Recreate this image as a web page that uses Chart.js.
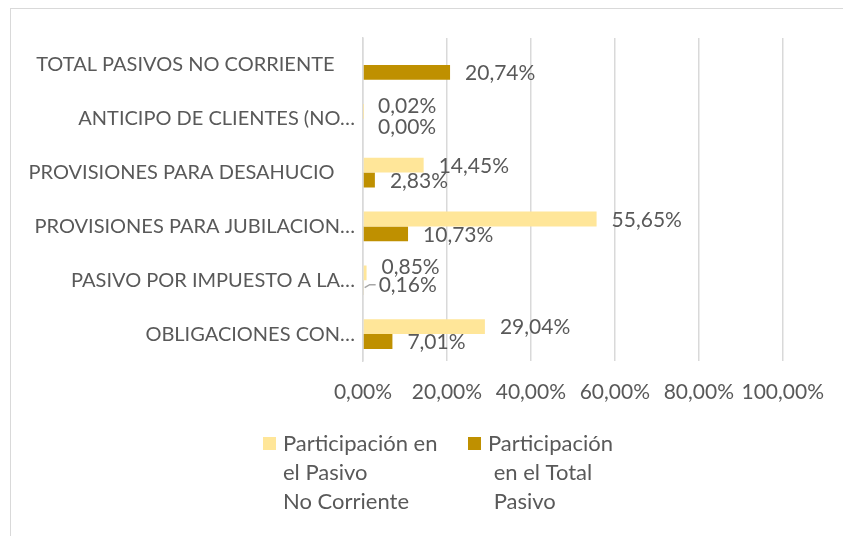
<!DOCTYPE html>
<html>
<head>
<meta charset="utf-8">
<script src="https://cdn.jsdelivr.net/npm/chart.js@4/dist/chart.umd.min.js"></script>
<style>
  html, body { margin: 0; padding: 0; background: #fff; }
  #wrap { position: relative; width: 843px; height: 536px; overflow: hidden; }
  #frame { position: absolute; left: 10px; top: 8px; width: 850px; height: 550px; border: 1px solid #d9d9d9; box-sizing: border-box; }
  canvas { position: absolute; left: 0; top: 0; }
</style>
</head>
<body>
<div id="wrap">
  <div id="frame"></div>
  <canvas id="c" width="843" height="536"></canvas>
</div>
<script>
const categories = [
  "TOTAL PASIVOS NO CORRIENTE    ",
  "ANTICIPO DE CLIENTES (NO…",
  "PROVISIONES PARA DESAHUCIO    ",
  "PROVISIONES PARA JUBILACION…",
  "PASIVO POR IMPUESTO A LA…",
  "OBLIGACIONES CON…"
];
const seriesNames = [
  ["Participación en", "el Pasivo", "No Corriente"],
  ["Participación", " en el Total", " Pasivo"]
];
const participacionPasivoNoCorriente = [null, 0.02, 14.45, 55.65, 0.85, 29.04];
const participacionTotalPasivo = [20.74, 0.00, 2.83, 10.73, 0.16, 7.01];
const xTicks = [0, 20, 40, 60, 80, 100];

const FONT = "Lato, 'Open Sans', sans-serif";
const TEXT = "#595959";
const colors = ["#FFE699", "#BF9000"];

function fmt(v) { return v.toFixed(2).replace(".", ",") + "%"; }

const labelPlugin = {
  id: "barLabels",
  afterDatasetsDraw(chart) {
    const ctx = chart.ctx;
    ctx.save();
    ctx.font = "21px " + FONT;
    ctx.fillStyle = TEXT;
    ctx.textAlign = "left";
    ctx.textBaseline = "middle";
    const n = chart.data.labels.length;
    for (let i = 0; i < n; i++) {
      const m0 = chart.getDatasetMeta(0).data[i];
      const m1 = chart.getDatasetMeta(1).data[i];
      const v0 = chart.data.datasets[0].data[i];
      const v1 = chart.data.datasets[1].data[i];
      let y0 = m0 ? m0.y + 1 : 0, y1 = m1 ? m1.y + 1 : 0;
      if (v0 != null && v1 != null && Math.abs(m0.x - m1.x) < 40 && Math.abs(y1 - y0) < 21) {
        y0 = y1 - 21;
      }
      if (v0 != null) ctx.fillText(fmt(v0), m0.x + 15, y0);
      if (v1 != null) ctx.fillText(fmt(v1), m1.x + 15, y1 + (v1 > 0 && v1 < 0.5 ? -3 : 0));
      if (v1 != null && v1 > 0 && v1 < 0.5) {
        ctx.strokeStyle = "#a6a6a6";
        ctx.lineWidth = 1.5;
        ctx.beginPath();
        ctx.moveTo(m1.x + 1, m1.y);
        ctx.lineTo(m1.x + 6, m1.y - 3);
        ctx.lineTo(m1.x + 12, m1.y - 3);
        ctx.stroke();
      }
    }
    ctx.restore();
  }
};

const legendPlugin = {
  id: "multiLegend",
  afterDraw(chart) {
    const ctx = chart.ctx;
    ctx.save();
    ctx.font = "22px " + FONT;
    ctx.fillStyle = TEXT;
    ctx.textBaseline = "middle";
    ctx.textAlign = "left";
    const starts = [263, 468];
    const top = 444, lh = 29;
    chart.data.datasets.forEach((ds, k) => {
      const x = starts[k];
      ctx.fillStyle = ds.backgroundColor;
      ctx.fillRect(x, top - 7, 13, 13);
      ctx.fillStyle = TEXT;
      ds.legendLines.forEach((line, j) => {
        ctx.fillText(line, x + 20, top + j * lh);
      });
    });
    ctx.restore();
  }
};

new Chart(document.getElementById("c"), {
  type: "bar",
  data: {
    labels: categories,
    datasets: [
      { label: seriesNames[0].join(" "), legendLines: seriesNames[0], data: participacionPasivoNoCorriente, backgroundColor: colors[0], categoryPercentage: 0.55, barPercentage: 1 },
      { label: seriesNames[1].join(" "), legendLines: seriesNames[1], data: participacionTotalPasivo, backgroundColor: colors[1], categoryPercentage: 0.55, barPercentage: 1 }
    ]
  },
  options: {
    indexAxis: "y",
    responsive: false,
    animation: false,
    layout: { padding: { top: 38, right: 54, left: 0, bottom: 0 } },
    plugins: { legend: { display: false }, tooltip: { enabled: false } },
    scales: {
      x: {
        min: 0, max: 100,
        afterBuildTicks(s) { s.ticks = xTicks.map(v => ({ value: v })); },
        afterFit(s) { s.height = 175; },
        grid: { color: "#d9d9d9", lineWidth: 1.5, drawTicks: false },
        border: { display: false },
        ticks: { padding: 19, color: TEXT, font: { family: FONT, size: 21 }, callback: v => fmt(v), maxRotation: 0, minRotation: 0, autoSkip: false }
      },
      y: {
        afterFit(s) { s.width = 363; },
        grid: { display: false, drawTicks: false },
        border: { display: true, color: "#d9d9d9", width: 1.5 },
        ticks: { padding: 8, color: TEXT, font: { family: FONT, size: 20 }, autoSkip: false }
      }
    }
  },
  plugins: [labelPlugin, legendPlugin]
});
</script>
</body>
</html>
